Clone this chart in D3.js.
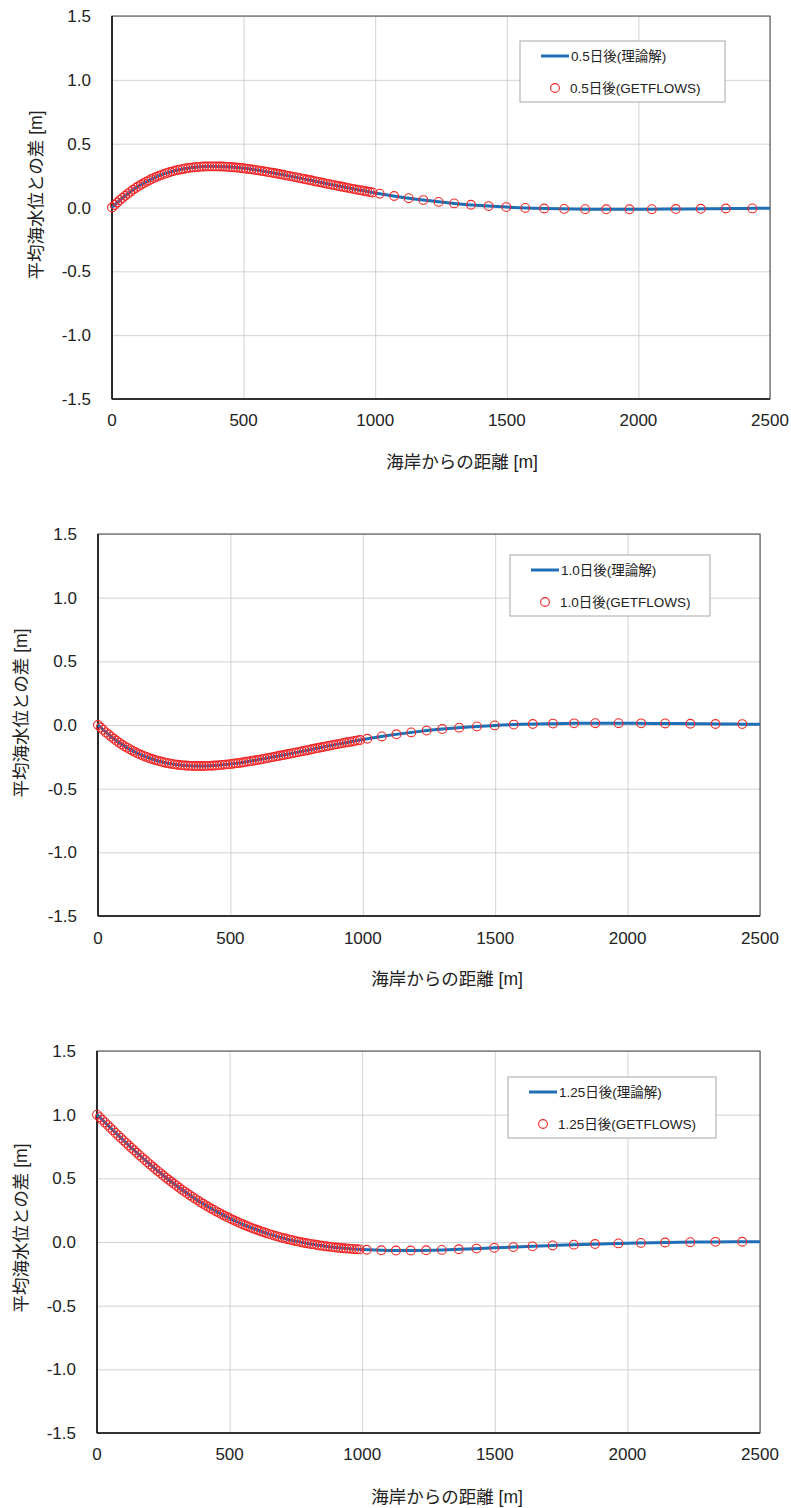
<!DOCTYPE html>
<meta charset="utf-8">
<head>
<style>
body { margin: 0; background: #fff; }
svg text { font-family: "Liberation Sans", Arial, "Noto Sans CJK JP", sans-serif; fill: #222; }
.grid line { stroke: #c6c6c6; stroke-width: 0.8; }
.grid path { display: none; }
.tick-label { font-size: 17px; }
.axis-title { font-size: 17.5px; }
.legend text { font-size: 13.5px; }
</style>
</head>
<body>
<svg id="chart" width="791" height="1508"></svg>
<script src="https://d3js.org/d3.v7.min.js"></script>
<script>

// tick values
var xTicks = [0, 500, 1000, 1500, 2000, 2500];
var yTicks = [-1.5, -1.0, -0.5, 0.0, 0.5, 1.0, 1.5];

// GETFLOWS cell positions [m]
var flowsX = [0,10,20,30,40,50,60,70,80,90,100,110,120,130,140,150,160,170,180,190,
  200,210,220,230,240,250,260,270,280,290,300,310,320,330,340,350,360,370,380,390,
  400,410,420,430,440,450,460,470,480,490,500,510,520,530,540,550,560,570,580,590,
  600,610,620,630,640,650,660,670,680,690,700,710,720,730,740,750,760,770,780,790,
  800,810,820,830,840,850,860,870,880,890,900,910,920,930,940,950,960,970,980,990,
  1017,1072,1127,1183,1241,1300,1364,1431,1498,1570,1642,1718,1798,1878,1966,2051,2142,2237,2332,2433];

// theoretical solution positions [m]
var theoryX = [0,50,100,150,200,250,300,350,400,450,500,550,600,650,700,750,800,850,900,950,1000,
  1100,1200,1300,1400,1500,1600,1700,1800,1900,2000,2100,2200,2300,2400,2500];

// 0.5 day
var theory05 = [0.000,0.092,0.166,0.223,0.265,0.294,0.312,0.321,0.322,0.317,0.307,0.293,0.275,0.256,0.236,0.215,0.194,0.173,0.152,0.133,0.114,
  0.081,0.054,0.032,0.015,0.003,-0.005,-0.010,-0.013,-0.014,-0.014,-0.012,-0.011,-0.009,-0.007,-0.005];
var flows05 = [0.000,0.020,0.039,0.058,0.075,0.092,0.108,0.124,0.139,0.153,
  0.166,0.178,0.190,0.202,0.212,0.223,0.232,0.241,0.249,0.257,
  0.265,0.271,0.278,0.283,0.289,0.294,0.298,0.302,0.306,0.309,
  0.312,0.314,0.317,0.318,0.320,0.321,0.322,0.322,0.322,0.322,
  0.322,0.321,0.321,0.320,0.318,0.317,0.315,0.313,0.311,0.309,
  0.307,0.304,0.301,0.299,0.296,0.293,0.289,0.286,0.283,0.279,
  0.275,0.272,0.268,0.264,0.260,0.256,0.252,0.248,0.244,0.240,
  0.236,0.232,0.228,0.223,0.219,0.215,0.211,0.206,0.202,0.198,
  0.194,0.189,0.185,0.181,0.177,0.173,0.168,0.164,0.160,0.156,
  0.152,0.148,0.144,0.140,0.136,0.133,0.129,0.125,0.121,0.118,
  0.108,0.090,0.073,0.058,0.044,0.032,0.021,0.011,0.003,-0.003,-0.008,-0.011,-0.013,-0.014,-0.014,-0.013,-0.012,-0.010,-0.008,-0.007];

// 1.0 day
var theory10 = [0.000,-0.092,-0.166,-0.223,-0.265,-0.294,-0.312,-0.321,-0.322,-0.317,-0.307,-0.293,-0.275,-0.256,-0.236,-0.215,-0.194,-0.173,-0.152,-0.133,-0.114,
  -0.081,-0.054,-0.032,-0.015,-0.003,0.005,0.010,0.013,0.014,0.014,0.012,0.011,0.009,0.007,0.005];
var flows10 = [0.000,-0.020,-0.039,-0.058,-0.075,-0.092,-0.108,-0.124,-0.139,-0.153,
  -0.166,-0.178,-0.190,-0.202,-0.212,-0.223,-0.232,-0.241,-0.249,-0.257,
  -0.265,-0.271,-0.278,-0.283,-0.289,-0.294,-0.298,-0.302,-0.306,-0.309,
  -0.312,-0.314,-0.317,-0.318,-0.320,-0.321,-0.322,-0.322,-0.322,-0.322,
  -0.322,-0.321,-0.321,-0.320,-0.318,-0.317,-0.315,-0.313,-0.311,-0.309,
  -0.307,-0.304,-0.301,-0.299,-0.296,-0.293,-0.289,-0.286,-0.283,-0.279,
  -0.275,-0.272,-0.268,-0.264,-0.260,-0.256,-0.252,-0.248,-0.244,-0.240,
  -0.236,-0.232,-0.228,-0.223,-0.219,-0.215,-0.211,-0.206,-0.202,-0.198,
  -0.194,-0.189,-0.185,-0.181,-0.177,-0.173,-0.168,-0.164,-0.160,-0.156,
  -0.152,-0.148,-0.144,-0.140,-0.136,-0.133,-0.129,-0.125,-0.121,-0.118,
  -0.108,-0.090,-0.073,-0.058,-0.044,-0.032,-0.021,-0.011,-0.003,0.003,0.008,0.011,0.013,0.014,0.014,0.013,0.012,0.010,0.008,0.007];

// 1.25 day
var theory125 = [1.000,0.898,0.798,0.701,0.609,0.522,0.442,0.368,0.300,0.240,0.186,0.139,0.098,0.062,0.032,0.007,-0.013,-0.030,-0.043,-0.052,-0.059,
  -0.066,-0.066,-0.062,-0.055,-0.046,-0.037,-0.029,-0.021,-0.015,-0.010,-0.005,-0.002,0.000,0.002,0.002];
var flows125 = [1.000,0.980,0.959,0.939,0.918,0.898,0.878,0.857,0.837,0.817,
  0.798,0.778,0.758,0.739,0.720,0.701,0.682,0.663,0.645,0.627,
  0.609,0.591,0.573,0.556,0.539,0.522,0.505,0.489,0.473,0.457,
  0.442,0.426,0.411,0.396,0.382,0.368,0.354,0.340,0.327,0.313,
  0.300,0.288,0.275,0.263,0.252,0.240,0.229,0.218,0.207,0.196,
  0.186,0.176,0.167,0.157,0.148,0.139,0.130,0.122,0.113,0.105,
  0.098,0.090,0.083,0.076,0.069,0.062,0.056,0.050,0.044,0.038,
  0.032,0.027,0.022,0.017,0.012,0.007,0.003,-0.002,-0.006,-0.010,
  -0.013,-0.017,-0.020,-0.024,-0.027,-0.030,-0.033,-0.035,-0.038,-0.040,
  -0.043,-0.045,-0.047,-0.049,-0.051,-0.052,-0.054,-0.056,-0.057,-0.058,
  -0.061,-0.065,-0.067,-0.067,-0.065,-0.062,-0.057,-0.052,-0.046,-0.040,-0.034,-0.027,-0.021,-0.016,-0.011,-0.007,-0.004,-0.001,0.001,0.002];

var panels = [
  {name: "0.5日後", theory: theory05, flows: flows05,
   left: 112, right: 770, top: 16, bottom: 399, xlabY: 420, xtitle: [462, 462], ytitle: [36, 195],
   legend: {x: 520, y: 41, w: 205, h: 61}},
  {name: "1.0日後", theory: theory10, flows: flows10,
   left: 98, right: 760, top: 534, bottom: 916, xlabY: 938, xtitle: [447, 979], ytitle: [21, 713],
   legend: {x: 510, y: 555, w: 200, h: 61}},
  {name: "1.25日後", theory: theory125, flows: flows125,
   left: 97, right: 760, top: 1051, bottom: 1433, xlabY: 1454, xtitle: [447, 1497], ytitle: [21, 1228],
   legend: {x: 508, y: 1077, w: 208, h: 61}}
];

var svg = d3.select("#chart");
var lineColor = "#1f6fb6", dotColor = "#f22626";

panels.forEach(function(p) {
  var w = p.right - p.left, h = p.bottom - p.top;
  var x = d3.scaleLinear().domain([0, 2500]).range([p.left, p.right]);
  var y = d3.scaleLinear().domain([-1.5, 1.5]).range([p.bottom, p.top]);

  var g = svg.append("g");

  // grid
  g.append("g").attr("class", "grid")
    .attr("transform", "translate(0," + p.bottom + ")")
    .call(d3.axisBottom(x).tickValues(xTicks).tickSize(-h).tickFormat(""));
  g.append("g").attr("class", "grid")
    .attr("transform", "translate(" + p.left + ",0)")
    .call(d3.axisLeft(y).tickValues(yTicks).tickSize(-w).tickFormat(""));

  // frame
  g.append("rect").attr("x", p.left).attr("y", p.top).attr("width", w).attr("height", h)
    .attr("fill", "none").attr("stroke", "#444").attr("stroke-width", 1);
  g.append("line").attr("x1", p.left).attr("x2", p.left).attr("y1", p.top).attr("y2", p.bottom)
    .attr("stroke", "#111").attr("stroke-width", 1.6);
  g.append("line").attr("x1", p.left).attr("x2", p.right).attr("y1", p.bottom).attr("y2", p.bottom)
    .attr("stroke", "#111").attr("stroke-width", 1.6);

  // tick labels
  g.selectAll(".ylab").data(yTicks).enter().append("text")
    .attr("class", "tick-label")
    .attr("x", p.left - 21).attr("y", function(d) { return y(d); })
    .attr("dy", "0.36em").attr("text-anchor", "end")
    .text(function(d) { return d.toFixed(1); });
  g.selectAll(".xlab").data(xTicks).enter().append("text")
    .attr("class", "tick-label")
    .attr("x", function(d) { return x(d); }).attr("y", p.xlabY)
    .attr("dy", "0.36em").attr("text-anchor", "middle")
    .text(function(d) { return d; });

  // axis titles
  g.append("text").attr("class", "axis-title")
    .attr("x", p.xtitle[0]).attr("y", p.xtitle[1]).attr("dy", "0.36em")
    .attr("text-anchor", "middle").text("海岸からの距離 [m]");
  g.append("text").attr("class", "axis-title")
    .attr("transform", "translate(" + p.ytitle[0] + "," + p.ytitle[1] + ") rotate(-90)")
    .attr("dy", "0.36em").attr("text-anchor", "middle").text("平均海水位との差 [m]");

  // theory line
  var line = d3.line()
    .x(function(d, i) { return x(theoryX[i]); })
    .y(function(d) { return y(d); })
    .curve(d3.curveCatmullRom.alpha(0.5));
  g.append("path").datum(p.theory)
    .attr("d", line).attr("fill", "none")
    .attr("stroke", lineColor).attr("stroke-width", 3);

  // GETFLOWS circles
  g.selectAll(".dot").data(p.flows).enter().append("circle")
    .attr("cx", function(d, i) { return x(flowsX[i]); })
    .attr("cy", function(d) { return y(d); })
    .attr("r", 4.4)
    .attr("fill", "none").attr("stroke", dotColor).attr("stroke-width", 1.1);

  // legend
  var L = p.legend;
  var lg = g.append("g").attr("class", "legend");
  lg.append("rect").attr("x", L.x).attr("y", L.y).attr("width", L.w).attr("height", L.h)
    .attr("fill", "#fff").attr("stroke", "#a8a8a8").attr("stroke-width", 1);
  lg.append("line").attr("x1", L.x + 21).attr("x2", L.x + 49)
    .attr("y1", L.y + 15).attr("y2", L.y + 15)
    .attr("stroke", lineColor).attr("stroke-width", 3);
  lg.append("text").attr("x", L.x + 51).attr("y", L.y + 15).attr("dy", "0.36em")
    .text(p.name + "(理論解)");
  lg.append("circle").attr("cx", L.x + 35).attr("cy", L.y + 47).attr("r", 4.4)
    .attr("fill", "none").attr("stroke", dotColor).attr("stroke-width", 1.1);
  lg.append("text").attr("x", L.x + 50).attr("y", L.y + 47).attr("dy", "0.36em")
    .text(p.name + "(GETFLOWS)");
});

</script>
</body>
</html>
